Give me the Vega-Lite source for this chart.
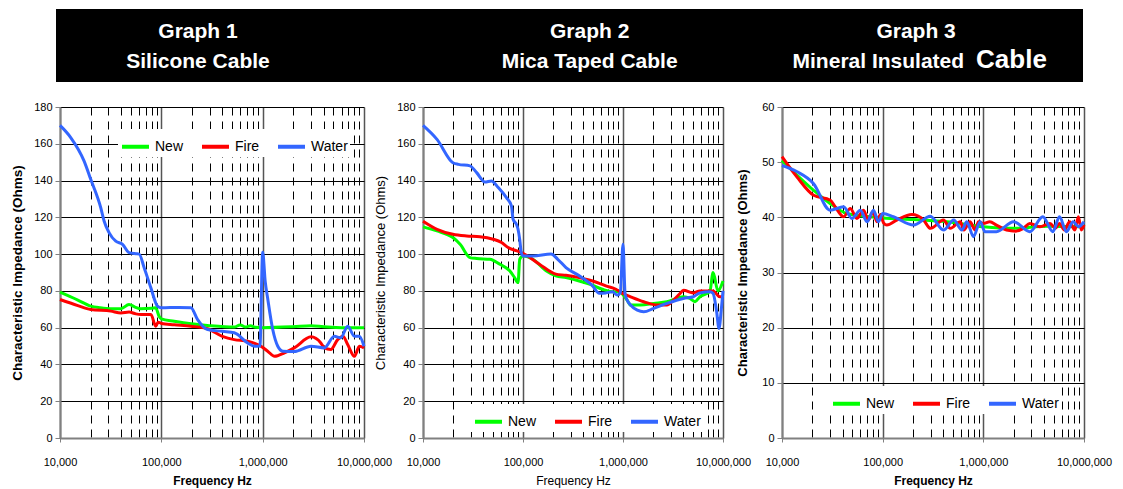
{
  "$schema": "https://vega.github.io/schema/vega-lite/v6.json",
  "background": "white",
  "padding": {"left": 10, "top": 9, "right": 5, "bottom": 5},
  "config": {
    "font": "Liberation Sans",
    "view": {"stroke": null},
    "axis": {"labelFont": "Liberation Sans", "titleFont": "Liberation Sans", "labelColor": "black", "titleColor": "black", "labelFontSize": 11},
    "legend": {"labelFont": "Liberation Sans"}
  },
  "datasets": {
    "header": [
      {"g": "Graph 1", "row": "1", "k": "n", "t": "Graph 1"},
      {"g": "Graph 1", "row": "2", "k": "n", "t": "Silicone Cable"},
      {"g": "Graph 2", "row": "1", "k": "n", "t": "Graph 2"},
      {"g": "Graph 2", "row": "2", "k": "n", "t": "Mica Taped Cable"},
      {"g": "Graph 3", "row": "1", "k": "n", "t": "Graph 3"},
      {"g": "Graph 3", "row": "2", "k": "L", "t": "Mineral Insulated"},
      {"g": "Graph 3", "row": "2", "k": "C", "t": "Cable"}
    ],
    "curves": [
      {"g":1,"s":"New","f":10000,"z":79.3},{"g":1,"s":"New","f":15000,"z":75},{"g":1,"s":"New","f":20100,"z":71.7},{"g":1,"s":"New","f":25000,"z":70.8},{"g":1,"s":"New","f":31700,"z":70.3},{"g":1,"s":"New","f":39800,"z":70.3},{"g":1,"s":"New","f":48000,"z":72.6},{"g":1,"s":"New","f":55000,"z":71.2},{"g":1,"s":"New","f":62700,"z":70.3},{"g":1,"s":"New","f":80000,"z":70.5},{"g":1,"s":"New","f":88000,"z":70.8},{"g":1,"s":"New","f":95000,"z":66.2},{"g":1,"s":"New","f":100000,"z":64.8},{"g":1,"s":"New","f":134000,"z":63.5},{"g":1,"s":"New","f":196000,"z":62.1},{"g":1,"s":"New","f":286000,"z":61.2},{"g":1,"s":"New","f":524000,"z":60.3},{"g":1,"s":"New","f":600000,"z":61.5},{"g":1,"s":"New","f":680000,"z":60.3},{"g":1,"s":"New","f":760000,"z":61},{"g":1,"s":"New","f":850000,"z":60.2},{"g":1,"s":"New","f":1000000,"z":60},{"g":1,"s":"New","f":2000000,"z":60.5},{"g":1,"s":"New","f":3000000,"z":61},{"g":1,"s":"New","f":4000000,"z":60.5},{"g":1,"s":"New","f":6000000,"z":60},{"g":1,"s":"New","f":10000000,"z":60},
      {"g":1,"s":"Fire","f":10000,"z":75.3},{"g":1,"s":"Fire","f":15000,"z":72},{"g":1,"s":"Fire","f":20100,"z":69.9},{"g":1,"s":"Fire","f":31700,"z":69},{"g":1,"s":"Fire","f":40000,"z":68},{"g":1,"s":"Fire","f":48000,"z":68.5},{"g":1,"s":"Fire","f":56000,"z":67.5},{"g":1,"s":"Fire","f":63000,"z":67.2},{"g":1,"s":"Fire","f":79000,"z":67.2},{"g":1,"s":"Fire","f":88000,"z":60.8},{"g":1,"s":"Fire","f":93000,"z":63},{"g":1,"s":"Fire","f":100000,"z":62.3},{"g":1,"s":"Fire","f":134000,"z":61.6},{"g":1,"s":"Fire","f":196000,"z":60.8},{"g":1,"s":"Fire","f":286000,"z":59.4},{"g":1,"s":"Fire","f":400000,"z":55.3},{"g":1,"s":"Fire","f":524000,"z":53.5},{"g":1,"s":"Fire","f":711000,"z":52.6},{"g":1,"s":"Fire","f":962000,"z":49.9},{"g":1,"s":"Fire","f":1120000,"z":47.2},{"g":1,"s":"Fire","f":1310000,"z":44.4},{"g":1,"s":"Fire","f":1640000,"z":46.3},{"g":1,"s":"Fire","f":2050000,"z":49},{"g":1,"s":"Fire","f":3000000,"z":55},{"g":1,"s":"Fire","f":3750000,"z":51.7},{"g":1,"s":"Fire","f":4060000,"z":49},{"g":1,"s":"Fire","f":4700000,"z":48.1},{"g":1,"s":"Fire","f":5500000,"z":53.5},{"g":1,"s":"Fire","f":6200000,"z":55.3},{"g":1,"s":"Fire","f":6900000,"z":50.8},{"g":1,"s":"Fire","f":8050000,"z":44.4},{"g":1,"s":"Fire","f":9000000,"z":49.9},{"g":1,"s":"Fire","f":10000000,"z":49},
      {"g":1,"s":"Water","f":10000,"z":170},{"g":1,"s":"Water","f":12760,"z":163.4},{"g":1,"s":"Water","f":17260,"z":150.7},{"g":1,"s":"Water","f":20100,"z":140.7},{"g":1,"s":"Water","f":25230,"z":125.3},{"g":1,"s":"Water","f":27230,"z":118},{"g":1,"s":"Water","f":30480,"z":111.7},{"g":1,"s":"Water","f":35500,"z":107},{"g":1,"s":"Water","f":41400,"z":105.3},{"g":1,"s":"Water","f":48100,"z":100.8},{"g":1,"s":"Water","f":56000,"z":100.2},{"g":1,"s":"Water","f":60400,"z":100},{"g":1,"s":"Water","f":67700,"z":92.6},{"g":1,"s":"Water","f":78800,"z":81.7},{"g":1,"s":"Water","f":91600,"z":71.7},{"g":1,"s":"Water","f":100000,"z":70.8},{"g":1,"s":"Water","f":150000,"z":71},{"g":1,"s":"Water","f":196000,"z":70.8},{"g":1,"s":"Water","f":228000,"z":64.4},{"g":1,"s":"Water","f":286000,"z":59},{"g":1,"s":"Water","f":400000,"z":58},{"g":1,"s":"Water","f":524000,"z":57.2},{"g":1,"s":"Water","f":711000,"z":51.7},{"g":1,"s":"Water","f":828000,"z":49.9},{"g":1,"s":"Water","f":940000,"z":50},{"g":1,"s":"Water","f":1000000,"z":101},{"g":1,"s":"Water","f":1060000,"z":85},{"g":1,"s":"Water","f":1120000,"z":76},{"g":1,"s":"Water","f":1257000,"z":59},{"g":1,"s":"Water","f":1410000,"z":49.9},{"g":1,"s":"Water","f":1580000,"z":47.2},{"g":1,"s":"Water","f":2050000,"z":47},{"g":1,"s":"Water","f":3000000,"z":49.9},{"g":1,"s":"Water","f":4060000,"z":49},{"g":1,"s":"Water","f":5100000,"z":55.3},{"g":1,"s":"Water","f":5900000,"z":54.5},{"g":1,"s":"Water","f":6900000,"z":60.8},{"g":1,"s":"Water","f":8050000,"z":55.3},{"g":1,"s":"Water","f":9000000,"z":55.3},{"g":1,"s":"Water","f":10000000,"z":49.9},
      {"g":2,"s":"New","f":10000,"z":114.8},{"g":2,"s":"New","f":13800,"z":112.6},{"g":2,"s":"New","f":19900,"z":109},{"g":2,"s":"New","f":23500,"z":105.4},{"g":2,"s":"New","f":29500,"z":98.1},{"g":2,"s":"New","f":34400,"z":97.6},{"g":2,"s":"New","f":46600,"z":97.2},{"g":2,"s":"New","f":58600,"z":94.5},{"g":2,"s":"New","f":73600,"z":90.9},{"g":2,"s":"New","f":82500,"z":87.2},{"g":2,"s":"New","f":89200,"z":84.5},{"g":2,"s":"New","f":92700,"z":97.2},{"g":2,"s":"New","f":100000,"z":99},{"g":2,"s":"New","f":125600,"z":97.2},{"g":2,"s":"New","f":170000,"z":90.9},{"g":2,"s":"New","f":213000,"z":88.2},{"g":2,"s":"New","f":269000,"z":87.2},{"g":2,"s":"New","f":365000,"z":85.4},{"g":2,"s":"New","f":496000,"z":83.1},{"g":2,"s":"New","f":622000,"z":80.9},{"g":2,"s":"New","f":783000,"z":79.5},{"g":2,"s":"New","f":910000,"z":79.5},{"g":2,"s":"New","f":1100000,"z":75},{"g":2,"s":"New","f":1190000,"z":72.3},{"g":2,"s":"New","f":1500000,"z":72.3},{"g":2,"s":"New","f":2030000,"z":73.2},{"g":2,"s":"New","f":2750000,"z":74.1},{"g":2,"s":"New","f":4020000,"z":76.8},{"g":2,"s":"New","f":4670000,"z":75.9},{"g":2,"s":"New","f":5250000,"z":74.1},{"g":2,"s":"New","f":5870000,"z":76.8},{"g":2,"s":"New","f":7380000,"z":79.5},{"g":2,"s":"New","f":7960000,"z":90},{"g":2,"s":"New","f":8900000,"z":80},{"g":2,"s":"New","f":10000000,"z":85.4},
      {"g":2,"s":"Fire","f":10000,"z":117.9},{"g":2,"s":"Fire","f":13800,"z":113.5},{"g":2,"s":"Fire","f":19900,"z":110.8},{"g":2,"s":"Fire","f":27300,"z":109.9},{"g":2,"s":"Fire","f":37100,"z":109.5},{"g":2,"s":"Fire","f":50300,"z":108.1},{"g":2,"s":"Fire","f":61000,"z":106.3},{"g":2,"s":"Fire","f":71000,"z":103.6},{"g":2,"s":"Fire","f":92700,"z":101.2},{"g":2,"s":"Fire","f":108000,"z":99.4},{"g":2,"s":"Fire","f":146000,"z":94.5},{"g":2,"s":"Fire","f":213000,"z":89.1},{"g":2,"s":"Fire","f":269000,"z":88.5},{"g":2,"s":"Fire","f":365000,"z":87.2},{"g":2,"s":"Fire","f":496000,"z":85.4},{"g":2,"s":"Fire","f":673000,"z":82.7},{"g":2,"s":"Fire","f":850000,"z":80.9},{"g":2,"s":"Fire","f":1000000,"z":78.5},{"g":2,"s":"Fire","f":1190000,"z":76.8},{"g":2,"s":"Fire","f":1610000,"z":74.1},{"g":2,"s":"Fire","f":2190000,"z":72.3},{"g":2,"s":"Fire","f":2750000,"z":72.3},{"g":2,"s":"Fire","f":3200000,"z":75},{"g":2,"s":"Fire","f":3720000,"z":78.6},{"g":2,"s":"Fire","f":4020000,"z":80.4},{"g":2,"s":"Fire","f":5050000,"z":78.9},{"g":2,"s":"Fire","f":5870000,"z":80},{"g":2,"s":"Fire","f":7960000,"z":80},{"g":2,"s":"Fire","f":9300000,"z":76.8},{"g":2,"s":"Fire","f":10000000,"z":76.8},
      {"g":2,"s":"Water","f":10000,"z":170},{"g":2,"s":"Water","f":13800,"z":162.4},{"g":2,"s":"Water","f":19900,"z":149.7},{"g":2,"s":"Water","f":22600,"z":148.8},{"g":2,"s":"Water","f":29500,"z":148},{"g":2,"s":"Water","f":34400,"z":144.3},{"g":2,"s":"Water","f":41600,"z":139.2},{"g":2,"s":"Water","f":48400,"z":139.8},{"g":2,"s":"Water","f":56500,"z":136.2},{"g":2,"s":"Water","f":68300,"z":130.7},{"g":2,"s":"Water","f":76600,"z":126.2},{"g":2,"s":"Water","f":79600,"z":119},{"g":2,"s":"Water","f":85900,"z":116.2},{"g":2,"s":"Water","f":89200,"z":113.5},{"g":2,"s":"Water","f":92700,"z":108},{"g":2,"s":"Water","f":96000,"z":101},{"g":2,"s":"Water","f":100000,"z":99},{"g":2,"s":"Water","f":125600,"z":99},{"g":2,"s":"Water","f":191000,"z":100},{"g":2,"s":"Water","f":222600,"z":97.2},{"g":2,"s":"Water","f":269000,"z":92.7},{"g":2,"s":"Water","f":365000,"z":88.2},{"g":2,"s":"Water","f":496000,"z":82.7},{"g":2,"s":"Water","f":578000,"z":78.7},{"g":2,"s":"Water","f":673000,"z":78.9},{"g":2,"s":"Water","f":783000,"z":79.5},{"g":2,"s":"Water","f":879000,"z":77.7},{"g":2,"s":"Water","f":940000,"z":79},{"g":2,"s":"Water","f":1000000,"z":105.4},{"g":2,"s":"Water","f":1050000,"z":78},{"g":2,"s":"Water","f":1100000,"z":75},{"g":2,"s":"Water","f":1190000,"z":72.3},{"g":2,"s":"Water","f":1390000,"z":69.5},{"g":2,"s":"Water","f":1610000,"z":68.6},{"g":2,"s":"Water","f":2030000,"z":70.5},{"g":2,"s":"Water","f":2750000,"z":73.2},{"g":2,"s":"Water","f":4020000,"z":75.9},{"g":2,"s":"Water","f":5050000,"z":76.8},{"g":2,"s":"Water","f":5870000,"z":78.9},{"g":2,"s":"Water","f":7380000,"z":79.5},{"g":2,"s":"Water","f":7960000,"z":78.6},{"g":2,"s":"Water","f":8600000,"z":69.5},{"g":2,"s":"Water","f":9120000,"z":59.6},{"g":2,"s":"Water","f":9600000,"z":69.5},{"g":2,"s":"Water","f":10000000,"z":80},
      {"g":3,"s":"New","f":10000,"z":50.3},{"g":3,"s":"New","f":20600,"z":44.9},{"g":3,"s":"New","f":30000,"z":42.5},{"g":3,"s":"New","f":44000,"z":40.7},{"g":3,"s":"New","f":75000,"z":40.1},{"g":3,"s":"New","f":100000,"z":39.9},{"g":3,"s":"New","f":203000,"z":39.6},{"g":3,"s":"New","f":435000,"z":39.2},{"g":3,"s":"New","f":1000000,"z":38.3},{"g":3,"s":"New","f":2000000,"z":38},{"g":3,"s":"New","f":4300000,"z":38.4},{"g":3,"s":"New","f":10000000,"z":38.3},
      {"g":3,"s":"Fire","f":10000,"z":51},{"g":3,"s":"Fire","f":14100,"z":47.3},{"g":3,"s":"Fire","f":20600,"z":44},{"g":3,"s":"Fire","f":30200,"z":43.1},{"g":3,"s":"Fire","f":33800,"z":41.9},{"g":3,"s":"Fire","f":40900,"z":40.1},{"g":3,"s":"Fire","f":47600,"z":41.6},{"g":3,"s":"Fire","f":55500,"z":39.8},{"g":3,"s":"Fire","f":64600,"z":41.3},{"g":3,"s":"Fire","f":72000,"z":39.5},{"g":3,"s":"Fire","f":80000,"z":41},{"g":3,"s":"Fire","f":88000,"z":39.2},{"g":3,"s":"Fire","f":95000,"z":40.5},{"g":3,"s":"Fire","f":102000,"z":39},{"g":3,"s":"Fire","f":110000,"z":38.6},{"g":3,"s":"Fire","f":138000,"z":39.5},{"g":3,"s":"Fire","f":195000,"z":40.5},{"g":3,"s":"Fire","f":255000,"z":39.5},{"g":3,"s":"Fire","f":298000,"z":38},{"g":3,"s":"Fire","f":402000,"z":39.5},{"g":3,"s":"Fire","f":470000,"z":38},{"g":3,"s":"Fire","f":590000,"z":39.2},{"g":3,"s":"Fire","f":640000,"z":37.7},{"g":3,"s":"Fire","f":737000,"z":39.2},{"g":3,"s":"Fire","f":830000,"z":37.7},{"g":3,"s":"Fire","f":895000,"z":39.2},{"g":3,"s":"Fire","f":1000000,"z":38.9},{"g":3,"s":"Fire","f":1160000,"z":39.2},{"g":3,"s":"Fire","f":1350000,"z":38.6},{"g":3,"s":"Fire","f":1700000,"z":37.7},{"g":3,"s":"Fire","f":2100000,"z":37.5},{"g":3,"s":"Fire","f":2500000,"z":38},{"g":3,"s":"Fire","f":2900000,"z":38.9},{"g":3,"s":"Fire","f":3650000,"z":38.3},{"g":3,"s":"Fire","f":4600000,"z":38.9},{"g":3,"s":"Fire","f":5200000,"z":38},{"g":3,"s":"Fire","f":5700000,"z":38.9},{"g":3,"s":"Fire","f":6400000,"z":37.7},{"g":3,"s":"Fire","f":7200000,"z":39.2},{"g":3,"s":"Fire","f":8100000,"z":37.7},{"g":3,"s":"Fire","f":8800000,"z":40.1},{"g":3,"s":"Fire","f":9400000,"z":37.7},{"g":3,"s":"Fire","f":10000000,"z":38.6},
      {"g":3,"s":"Water","f":10000,"z":49.4},{"g":3,"s":"Water","f":14000,"z":48.3},{"g":3,"s":"Water","f":20600,"z":46.1},{"g":3,"s":"Water","f":30000,"z":41.3},{"g":3,"s":"Water","f":41000,"z":41.9},{"g":3,"s":"Water","f":49500,"z":39.8},{"g":3,"s":"Water","f":60000,"z":41.3},{"g":3,"s":"Water","f":70000,"z":39.2},{"g":3,"s":"Water","f":81000,"z":41.3},{"g":3,"s":"Water","f":91000,"z":39.2},{"g":3,"s":"Water","f":100000,"z":40.7},{"g":3,"s":"Water","f":128000,"z":40.1},{"g":3,"s":"Water","f":203000,"z":38.6},{"g":3,"s":"Water","f":297000,"z":40.2},{"g":3,"s":"Water","f":402000,"z":37.7},{"g":3,"s":"Water","f":508000,"z":39.5},{"g":3,"s":"Water","f":612000,"z":37.7},{"g":3,"s":"Water","f":685000,"z":39.2},{"g":3,"s":"Water","f":798000,"z":36.5},{"g":3,"s":"Water","f":930000,"z":39.2},{"g":3,"s":"Water","f":1040000,"z":37.4},{"g":3,"s":"Water","f":1350000,"z":37.4},{"g":3,"s":"Water","f":2000000,"z":39.2},{"g":3,"s":"Water","f":2900000,"z":37.4},{"g":3,"s":"Water","f":3900000,"z":40.1},{"g":3,"s":"Water","f":4900000,"z":37.4},{"g":3,"s":"Water","f":5700000,"z":40.1},{"g":3,"s":"Water","f":6700000,"z":37.4},{"g":3,"s":"Water","f":7800000,"z":39.2},{"g":3,"s":"Water","f":8800000,"z":38.3},{"g":3,"s":"Water","f":10000000,"z":39.2}
    ]
  },
  "spacing": 19,
  "vconcat": [
    {
      "width": 1019,
      "height": 65,
      "view": {"fill": "black", "stroke": "black", "strokeWidth": 8},
      "data": {"name": "header"},
      "encoding": {
        "x": {"field": "g", "type": "nominal", "scale": {"type": "point", "domain": ["d1", "d2", "Graph 1", "s1", "s2", "s3", "s4", "s5", "Graph 2", "s6", "s7", "s8", "s9", "Graph 3", "d3", "d4"], "padding": 0.305, "align": 0.1875}, "axis": null},
        "y": {"field": "row", "type": "nominal", "scale": {"type": "point", "padding": 0.583, "align": 0.714}, "axis": null},
        "text": {"field": "t"}
      },
      "layer": [
        {"transform": [{"filter": "datum.k == 'n'"}], "mark": {"type": "text", "font": "Liberation Sans", "fontWeight": "bold", "fontSize": 21, "color": "white", "baseline": "alphabetic", "align": "center"}},
        {"transform": [{"filter": "datum.k == 'L'"}], "mark": {"type": "text", "font": "Liberation Sans", "fontWeight": "bold", "fontSize": 21, "color": "white", "baseline": "alphabetic", "align": "right", "dx": 48}},
        {"transform": [{"filter": "datum.k == 'C'"}], "mark": {"type": "text", "font": "Liberation Sans", "fontWeight": "bold", "fontSize": 26, "color": "white", "baseline": "alphabetic", "align": "left", "dx": 60}}
      ]
    },
    {
      "hconcat": [
        {
          "width": 304, "height": 331,
          "data": {"name": "curves"},
          "transform": [{"filter": "datum.g == 1"}],
          "mark": {"type": "line", "strokeWidth": 3, "interpolate": "monotone"},
          "encoding": {
            "x": {"field": "f", "type": "quantitative", "title": "Frequency Hz",
              "scale": {"type": "log", "domain": [10000, 10000000], "nice": false},
              "axis": {"values": [10000,20000,30000,40000,50000,60000,70000,80000,90000,100000,200000,300000,400000,500000,600000,700000,800000,900000,1000000,2000000,3000000,4000000,5000000,6000000,7000000,8000000,9000000,10000000],
                "labelExpr": "(datum.value == 10000 || datum.value == 100000 || datum.value == 1000000 || datum.value == 10000000) ? format(datum.value, ',') : ''",
                "grid": true,
                "gridColor": {"condition": {"test": "datum.value == 10000 || datum.value == 100000 || datum.value == 1000000 || datum.value == 10000000", "value": "#555555"}, "value": "#000000"},
                "gridDash": {"condition": {"test": "datum.value == 10000 || datum.value == 100000 || datum.value == 1000000 || datum.value == 10000000", "value": []}, "value": [8, 6]},
                "gridWidth": {"condition": {"test": "datum.value == 10000 || datum.value == 100000 || datum.value == 1000000 || datum.value == 10000000", "value": 1.5}, "value": 1},
                "tickOpacity": {"condition": {"test": "datum.value == 10000 || datum.value == 100000 || datum.value == 1000000 || datum.value == 10000000", "value": 1}, "value": 0},
                "tickSize": 4, "tickColor": "#808080", "domainColor": "#808080", "domainWidth": 2,
                "labelPadding": 14, "labelFlush": false, "labelOverlap": false, "labelFontSize": 11,
                "titleFontSize": 12, "titleFontWeight": "bold", "titlePadding": 8}},
            "y": {"field": "z", "type": "quantitative", "title": "Characteristic Impedance (Ohms)",
              "scale": {"domain": [0, 180], "nice": false},
              "axis": {"values": [0,20,40,60,80,100,120,140,160,180], "grid": true, "gridColor": "#000000", "gridWidth": 1,
                "domainColor": "#808080", "domainWidth": 2, "tickColor": "#808080", "tickSize": 5,
                "labelPadding": 3, "labelFontSize": 11, "titleFontSize": 13.5, "titleFontWeight": "bold", "titlePadding": 9}},
            "color": {"field": "s", "type": "nominal",
              "scale": {"domain": ["New", "Fire", "Water"], "range": ["#00FF00", "#FF0000", "#3366FF"]},
              "legend": {"title": null, "orient": "none", "legendX": 58, "legendY": 22, "direction": "horizontal",
                "symbolType": "stroke", "symbolSize": 729, "symbolStrokeWidth": 4, "labelFontSize": 14, "labelColor": "black",
                "labelOffset": 4, "columnPadding": 10, "fillColor": "white", "padding": 2}}
          }
        },
        {
          "width": 300, "height": 331,
          "data": {"name": "curves"},
          "transform": [{"filter": "datum.g == 2"}],
          "mark": {"type": "line", "strokeWidth": 3, "interpolate": "monotone"},
          "encoding": {
            "x": {"field": "f", "type": "quantitative", "title": "Frequency Hz",
              "scale": {"type": "log", "domain": [10000, 10000000], "nice": false},
              "axis": {"values": [10000,20000,30000,40000,50000,60000,70000,80000,90000,100000,200000,300000,400000,500000,600000,700000,800000,900000,1000000,2000000,3000000,4000000,5000000,6000000,7000000,8000000,9000000,10000000],
                "labelExpr": "(datum.value == 10000 || datum.value == 100000 || datum.value == 1000000 || datum.value == 10000000) ? format(datum.value, ',') : ''",
                "grid": true,
                "gridColor": {"condition": {"test": "datum.value == 10000 || datum.value == 100000 || datum.value == 1000000 || datum.value == 10000000", "value": "#555555"}, "value": "#000000"},
                "gridDash": {"condition": {"test": "datum.value == 10000 || datum.value == 100000 || datum.value == 1000000 || datum.value == 10000000", "value": []}, "value": [8, 6]},
                "gridWidth": {"condition": {"test": "datum.value == 10000 || datum.value == 100000 || datum.value == 1000000 || datum.value == 10000000", "value": 1.5}, "value": 1},
                "tickOpacity": {"condition": {"test": "datum.value == 10000 || datum.value == 100000 || datum.value == 1000000 || datum.value == 10000000", "value": 1}, "value": 0},
                "tickSize": 4, "tickColor": "#808080", "domainColor": "#808080", "domainWidth": 2,
                "labelPadding": 14, "labelFlush": false, "labelOverlap": false, "labelFontSize": 11,
                "titleFontSize": 12, "titleFontWeight": "normal", "titlePadding": 8}},
            "y": {"field": "z", "type": "quantitative", "title": "Characteristic Impedance (Ohms)",
              "scale": {"domain": [0, 180], "nice": false},
              "axis": {"values": [0,20,40,60,80,100,120,140,160,180], "grid": true, "gridColor": "#000000", "gridWidth": 1,
                "domainColor": "#808080", "domainWidth": 2, "tickColor": "#808080", "tickSize": 5,
                "labelPadding": 3, "labelFontSize": 11, "titleFontSize": 13, "titleFontWeight": "normal", "titlePadding": 9}},
            "color": {"field": "s", "type": "nominal",
              "scale": {"domain": ["New", "Fire", "Water"], "range": ["#00FF00", "#FF0000", "#3366FF"]},
              "legend": {"title": null, "orient": "none", "legendX": 48, "legendY": 297, "direction": "horizontal",
                "symbolType": "stroke", "symbolSize": 729, "symbolStrokeWidth": 4, "labelFontSize": 14, "labelColor": "black",
                "labelOffset": 4, "columnPadding": 10, "fillColor": "white", "padding": 2}}
          }
        },
        {
          "width": 302, "height": 331,
          "data": {"name": "curves"},
          "transform": [{"filter": "datum.g == 3"}],
          "mark": {"type": "line", "strokeWidth": 3, "interpolate": "monotone"},
          "encoding": {
            "x": {"field": "f", "type": "quantitative", "title": "Frequency Hz",
              "scale": {"type": "log", "domain": [10000, 10000000], "nice": false},
              "axis": {"values": [10000,20000,30000,40000,50000,60000,70000,80000,90000,100000,200000,300000,400000,500000,600000,700000,800000,900000,1000000,2000000,3000000,4000000,5000000,6000000,7000000,8000000,9000000,10000000],
                "labelExpr": "(datum.value == 10000 || datum.value == 100000 || datum.value == 1000000 || datum.value == 10000000) ? format(datum.value, ',') : ''",
                "grid": true,
                "gridColor": {"condition": {"test": "datum.value == 10000 || datum.value == 100000 || datum.value == 1000000 || datum.value == 10000000", "value": "#555555"}, "value": "#000000"},
                "gridDash": {"condition": {"test": "datum.value == 10000 || datum.value == 100000 || datum.value == 1000000 || datum.value == 10000000", "value": []}, "value": [8, 6]},
                "gridWidth": {"condition": {"test": "datum.value == 10000 || datum.value == 100000 || datum.value == 1000000 || datum.value == 10000000", "value": 1.5}, "value": 1},
                "tickOpacity": {"condition": {"test": "datum.value == 10000 || datum.value == 100000 || datum.value == 1000000 || datum.value == 10000000", "value": 1}, "value": 0},
                "tickSize": 4, "tickColor": "#808080", "domainColor": "#808080", "domainWidth": 2,
                "labelPadding": 14, "labelFlush": false, "labelOverlap": false, "labelFontSize": 11,
                "titleFontSize": 12, "titleFontWeight": "bold", "titlePadding": 8}},
            "y": {"field": "z", "type": "quantitative", "title": "Characteristic Impedance (Ohms)",
              "scale": {"domain": [0, 60], "nice": false},
              "axis": {"values": [0,10,20,30,40,50,60], "grid": true, "gridColor": "#000000", "gridWidth": 1,
                "domainColor": "#808080", "domainWidth": 2, "tickColor": "#808080", "tickSize": 5,
                "labelPadding": 3, "labelFontSize": 11, "titleFontSize": 13, "titleFontWeight": "bold", "titlePadding": 12}},
            "color": {"field": "s", "type": "nominal",
              "scale": {"domain": ["New", "Fire", "Water"], "range": ["#00FF00", "#FF0000", "#3366FF"]},
              "legend": {"title": null, "orient": "none", "legendX": 47, "legendY": 279, "direction": "horizontal",
                "symbolType": "stroke", "symbolSize": 729, "symbolStrokeWidth": 4, "labelFontSize": 14, "labelColor": "black",
                "labelOffset": 4, "columnPadding": 10, "fillColor": "white", "padding": 2}}
          }
        }
      ],
      "spacing": 59,
      "bounds": "flush",
      "resolve": {"scale": {"x": "independent", "y": "independent", "color": "independent"}, "legend": {"color": "independent"}}
    }
  ]
}
